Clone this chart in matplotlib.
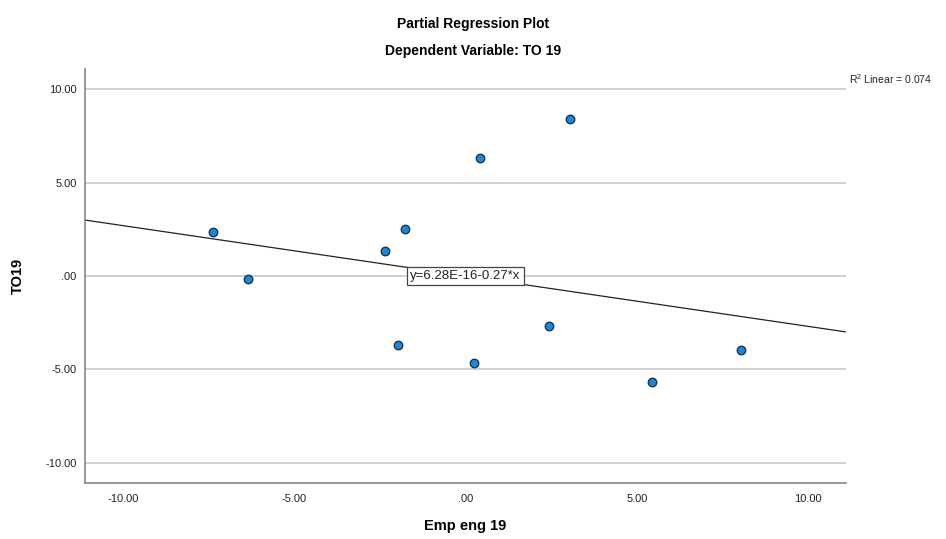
import matplotlib.pyplot as plt
import numpy as np

plt.rcParams['font.family'] = ['Liberation Sans', 'DejaVu Sans']

# partial residuals
emp_eng = [-7.36, -6.34, -2.35, -1.76, -1.97, 0.42, 0.25, 3.05, 2.43, 5.44, 8.03]
to19 = [2.36, -0.16, 1.34, 2.52, -3.70, 6.32, -4.66, 8.41, -2.68, -5.68, -3.96]

intercept = 6.28e-16
slope = -0.27
r2 = 0.074

yticks = [-10, -5, 0, 5, 10]
xticks = [-10, -5, 0, 5, 10]


def fmt(v):
    s = '%.2f' % v
    return s.replace('0.00', '.00') if v == 0 else s


fig = plt.figure(figsize=(9.46, 5.39), dpi=100)
ax = fig.add_axes([0.0899, 0.1039, 0.8044, 0.7681])

xlim = (-11.1, 11.1)
ax.set_xlim(xlim)
ax.set_ylim(-11.09, 11.09)

# horizontal grid only, like SPSS
for yv in yticks:
    ax.axhline(yv, color='#c8c8c8', lw=1.2, zorder=0)

xs = np.array(xlim)
ax.plot(xs, intercept + slope * xs, color='#222222', lw=0.9, zorder=1)

ax.scatter(emp_eng, to19, s=38, c='#1a87d8', edgecolors='#1c2a38',
           linewidths=0.9, zorder=3)

ax.text(0, 0, 'y=6.28E-16-0.27*x', ha='center', va='center', fontsize=9.5,
        color='#222222', zorder=4,
        bbox=dict(boxstyle='square,pad=0.25', fc='white', ec='#444444', lw=0.9))

ax.set_xticks(xticks)
ax.set_xticklabels([fmt(v) for v in xticks])
ax.set_yticks(yticks)
ax.set_yticklabels([fmt(v) for v in yticks])
ax.tick_params(length=0, labelsize=8, colors='#222222')
ax.tick_params(axis='x', pad=8)
ax.tick_params(axis='y', pad=6)

for side in ['top', 'right']:
    ax.spines[side].set_visible(False)
for side in ['left', 'bottom']:
    ax.spines[side].set_color('#888888')
    ax.spines[side].set_linewidth(1.2)

fig.text(0.4921, 0.024, 'Emp eng 19', ha='center', va='center',
         fontsize=10.5, fontweight='bold')
fig.text(0.019, 0.488, 'TO19', ha='center', va='center', rotation=90,
         fontsize=10.5, fontweight='bold')

fig.text(0.5, 0.955, 'Partial Regression Plot', ha='center', va='center',
         fontsize=10, fontweight='bold')
fig.text(0.5, 0.905, 'Dependent Variable: TO 19', ha='center', va='center',
         fontsize=10, fontweight='bold')

fig.text(0.897, 0.853, '$\\mathregular{R^2}$ Linear = %.3f' % r2, ha='left',
         va='center', fontsize=7.5, color='#222222')

fig.savefig('out.png', dpi=100)
